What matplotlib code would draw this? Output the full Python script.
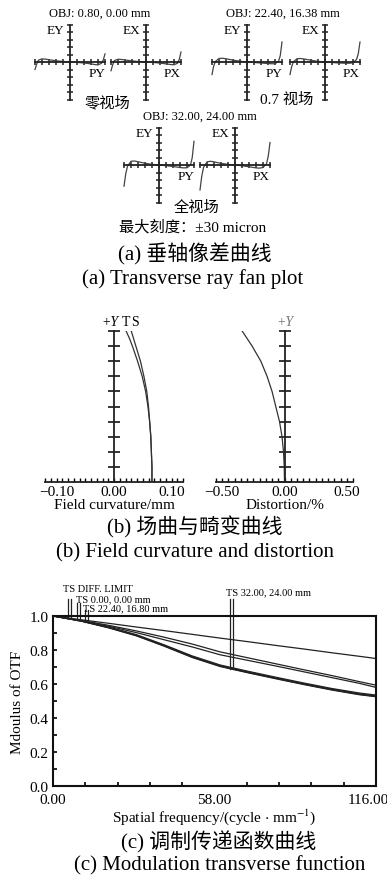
import numpy as np
import matplotlib
matplotlib.use('Agg')
import matplotlib.pyplot as plt
from matplotlib.ticker import MultipleLocator, FixedLocator, FormatStrFormatter
import matplotlib.transforms as mtransforms

plt.rcParams['font.family'] = ['Liberation Serif', 'Noto Sans CJK SC']
plt.rcParams['mathtext.fontset'] = 'stix'

W, H = 387, 879

# ---------------- data ----------------
pupil = [-1, -0.95, -0.9, -0.8, -0.7, -0.6, -0.4, -0.2, 0, 0.2, 0.4, 0.6, 0.7, 0.8, 0.9, 0.95, 1]
fan_f0_ey = [-6, -1.5, 1.5, 2.5, 2.3, 1.8, 1.0, 0.4, 0, -0.3, -0.8, -1.5, -2.0, -2.3, -1.0, 1.5, 6.5]
fan_f0_ex = [-7, -2, 1.2, 2.2, 2.0, 1.6, 0.9, 0.3, 0, -0.3, -0.9, -1.6, -2.0, -2.2, -1.0, 2.0, 8]
fan_f07_ey = [-10, -3, 0.5, 2.8, 3.0, 2.6, 1.5, 0.6, 0, -0.4, -0.8, -1.2, -1.4, -1.4, 0.5, 5, 16]
fan_f07_ex = [-10, -3.5, 0.3, 2.6, 2.8, 2.4, 1.4, 0.5, 0, -0.4, -0.8, -1.0, -1.0, -0.6, 2.0, 6.5, 16]
fan_f1_ey = [-17, -7, -1, 3.0, 3.2, 2.6, 1.4, 0.5, 0, -0.5, -1.2, -2.0, -2.3, -2.2, 0, 6, 19]
fan_f1_ex = [-20, -9, -2, 2.5, 3.0, 2.5, 1.3, 0.5, 0, -0.6, -1.4, -2.3, -2.5, -2.0, 1, 7, 18]

field_frac = [0, 0.1, 0.2, 0.3, 0.4, 0.5, 0.6, 0.7, 0.8, 0.9, 0.95, 1.0]
fc_t = [0.066, 0.066, 0.065, 0.064, 0.062, 0.059, 0.055, 0.049, 0.041, 0.032, 0.027, 0.021]
fc_s = [0.066, 0.066, 0.065, 0.064, 0.062, 0.060, 0.057, 0.052, 0.046, 0.038, 0.034, 0.030]
distortion = [0, -0.002, -0.008, -0.02, -0.04, -0.07, -0.10, -0.14, -0.19, -0.26, -0.30, -0.34]

mtf_freq = [0, 10, 20, 30, 40, 50, 60, 70, 80, 90, 100, 110, 116]
mtf_diff = [1.0, 0.978, 0.957, 0.935, 0.914, 0.892, 0.870, 0.849, 0.827, 0.806, 0.784, 0.763, 0.750]
mtf_f0_t = [1.0, 0.975, 0.945, 0.912, 0.875, 0.835, 0.789, 0.754, 0.719, 0.684, 0.650, 0.614, 0.593]
mtf_f0_s = [1.0, 0.972, 0.940, 0.902, 0.860, 0.818, 0.772, 0.739, 0.706, 0.672, 0.638, 0.604, 0.580]
mtf_f07_t = [1.0, 0.972, 0.935, 0.890, 0.830, 0.765, 0.712, 0.675, 0.640, 0.606, 0.574, 0.547, 0.535]
mtf_f07_s = [1.0, 0.971, 0.933, 0.887, 0.826, 0.761, 0.708, 0.671, 0.636, 0.602, 0.570, 0.542, 0.530]
mtf_f1_t = [1.0, 0.970, 0.930, 0.883, 0.822, 0.756, 0.703, 0.666, 0.631, 0.597, 0.565, 0.537, 0.525]
mtf_f1_s = [1.0, 0.971, 0.932, 0.885, 0.824, 0.758, 0.705, 0.668, 0.633, 0.599, 0.567, 0.539, 0.527]

fig = plt.figure(figsize=(W / 100, H / 100), dpi=100)


def ftext(x, y, s, **kw):
    fig.text(x / W, 1 - y / H, s, ha=kw.pop('ha', 'center'), va=kw.pop('va', 'center'), **kw)


def fan(cx, cy, vals, ename, pname):
    ax = fig.add_axes([(cx - 35) / W, 1 - (cy + 37.5) / H, 70 / W, 75 / H])
    ax.set_xlim(-1, 1)
    ax.set_ylim(-30, 30)
    ax.patch.set_visible(False)
    for s in ['top', 'right']:
        ax.spines[s].set_visible(False)
    ax.spines['left'].set_position(('data', 0))
    ax.spines['bottom'].set_position(('data', 0))
    for s in ['left', 'bottom']:
        ax.spines[s].set_color('#222')
        ax.spines[s].set_linewidth(1.3)
    ax.xaxis.set_major_locator(MultipleLocator(0.2))
    ax.yaxis.set_major_locator(MultipleLocator(6))
    ax.tick_params(direction='inout', length=5, width=1.1, color='#222',
                   labelbottom=False, labelleft=False)
    ax.plot(pupil, vals, color='#444', lw=0.9, clip_on=False)
    ax.text(0.29, 0.93, ename, transform=ax.transAxes, ha='center', va='center', fontsize=9.5)
    ax.text(0.88, 0.35, pname, transform=ax.transAxes, ha='center', va='center', fontsize=9.5)


# ---------------- (a) ray fans ----------------
ftext(100, 14, 'OBJ: 0.80, 0.00 mm', fontsize=9)
fan(70, 63, fan_f0_ey, 'EY', 'PY')
fan(146, 63, fan_f0_ex, 'EX', 'PX')
ftext(107, 103, '零视场', fontsize=11)

ftext(283, 14, 'OBJ: 22.40, 16.38 mm', fontsize=9)
fan(247, 63, fan_f07_ey, 'EY', 'PY')
fan(325, 63, fan_f07_ex, 'EX', 'PX')
ftext(287, 100, '0.7 视场', fontsize=11)

ftext(200, 117, 'OBJ: 32.00, 24.00 mm', fontsize=9)
fan(159, 166, fan_f1_ey, 'EY', 'PY')
fan(235, 166, fan_f1_ex, 'EX', 'PX')
ftext(197, 208, '全视场', fontsize=11)
ftext(193, 227, '最大刻度：±30 micron', fontsize=11)

ftext(195, 254, '(a) 垂轴像差曲线', fontsize=15)
ftext(193, 279, '(a) Transverse ray fan plot', fontsize=15)


# ---------------- (b) field curvature & distortion ----------------
def half_axes(x0, x1, lim, step, labels):
    ax = fig.add_axes([x0 / W, 1 - 483 / H, (x1 - x0) / W, 151 / H])
    ax.set_xlim(-lim, lim)
    ax.set_ylim(0, 1)
    ax.patch.set_visible(False)
    for s in ['top', 'right']:
        ax.spines[s].set_visible(False)
    ax.spines['left'].set_position(('data', 0))
    for s in ['left', 'bottom']:
        ax.spines[s].set_color('#222')
        ax.spines[s].set_linewidth(1.3)
    ax.xaxis.set_major_locator(FixedLocator(labels))
    ax.xaxis.set_minor_locator(MultipleLocator(step))
    ax.set_xticklabels([('\u2212' if v < 0 else '') + '%.2f' % abs(v) for v in labels])
    ax.tick_params(axis='x', which='both', direction='in', length=3, width=1, pad=2, labelsize=11)
    ax.yaxis.set_major_locator(MultipleLocator(0.1))
    ax.tick_params(axis='y', direction='inout', length=9, width=1.1, labelleft=False)
    return ax


ax_fc = half_axes(45, 183, 0.12, 0.01, [-0.10, 0.0, 0.10])
ax_fc.plot(fc_t, field_frac, color='#333', lw=0.9)
ax_fc.plot(fc_s, field_frac, color='#333', lw=0.9)
ax_fc.set_xlabel('Field curvature/mm', fontsize=11, labelpad=0)
ftext(110, 323, '+Y', fontsize=10, style='italic')
ftext(125.5, 323, 'T', fontsize=10)
ftext(134.5, 323, 'S', fontsize=10)

ax_d = half_axes(216, 353, 0.55, 0.05, [-0.50, 0.0, 0.50])
ax_d.plot(distortion, field_frac, color='#333', lw=0.9)
ax_d.set_xlabel('Distortion/%', fontsize=11, labelpad=0)
ftext(285, 322, '+Y', fontsize=10, style='italic', color='#777')

ftext(195, 527, '(b) 场曲与畸变曲线', fontsize=15)
ftext(195, 553, '(b) Field curvature and distortion', fontsize=15)

# ---------------- (c) MTF ----------------
ax = fig.add_axes([53 / W, 1 - 787 / H, 323 / W, 170 / H])
ax.set_xlim(0, 116)
ax.set_ylim(0, 1.0)
for s in ax.spines.values():
    s.set_linewidth(1.5)
    s.set_color('#111')
ax.plot(mtf_freq, mtf_diff, color='#222', lw=0.9)
for ser in [mtf_f0_t, mtf_f0_s]:
    ax.plot(mtf_freq, ser, color='#222', lw=0.9)
for ser in [mtf_f07_t, mtf_f07_s, mtf_f1_t, mtf_f1_s]:
    ax.plot(mtf_freq, ser, color='#222', lw=0.9)

ax.xaxis.set_major_locator(FixedLocator([0, 58, 116]))
ax.xaxis.set_minor_locator(MultipleLocator(11.6))
ax.set_xticklabels(['0.00', '58.00', '116.00'])
ax.tick_params(axis='x', which='major', direction='in', length=0, pad=5, labelsize=11)
ax.tick_params(axis='x', which='minor', direction='in', length=3, width=1.2)
ax.yaxis.set_major_locator(MultipleLocator(0.2))
ax.yaxis.set_minor_locator(MultipleLocator(0.1))
ax.yaxis.set_major_formatter(FormatStrFormatter('%.1f'))
ax.tick_params(axis='y', which='both', direction='in', length=3, width=1.2, pad=3, labelsize=11)
labs = ax.get_xticklabels()
off = mtransforms.ScaledTranslation(-8 / 100, 0, fig.dpi_scale_trans)
labs[-1].set_transform(labs[-1].get_transform() + off)
ax.set_ylabel('Mdoulus of OTF', fontsize=11, labelpad=4)
ax.set_xlabel(r'Spatial frequency/(cycle $\cdot$ mm$^{-1}$)', fontsize=11, labelpad=0)

# leader lines and labels
leaders = [
    ('TS DIFF. LIMIT', 3.6, 1.16, [5.4, 6.4], 1.10, mtf_diff),
    ('TS 0.00, 0.00 mm', 8.2, 1.103, [8.6, 9.7], 1.075, mtf_f0_t),
    ('TS 22.40, 16.80 mm', 10.8, 1.05, [11.5, 12.5], 1.035, mtf_f07_t),
    ('TS 32.00, 24.00 mm', 62.3, 1.14, [63.7, 64.7], 1.10, mtf_f1_t),
]
for txt, tx, ty, xs, top, ser in leaders:
    for xv in xs:
        bot = float(np.interp(xv, mtf_freq, ser))
        ax.plot([xv, xv], [bot, top], color='#222', lw=0.9, clip_on=False)
    ax.text(tx, ty, txt, fontsize=7.5, ha='left', va='center')

ftext(219, 842, '(c) 调制传递函数曲线', fontsize=15)
ftext(220, 866, '(c) Modulation transverse function', fontsize=15)

fig.savefig('out.png', dpi=100)
